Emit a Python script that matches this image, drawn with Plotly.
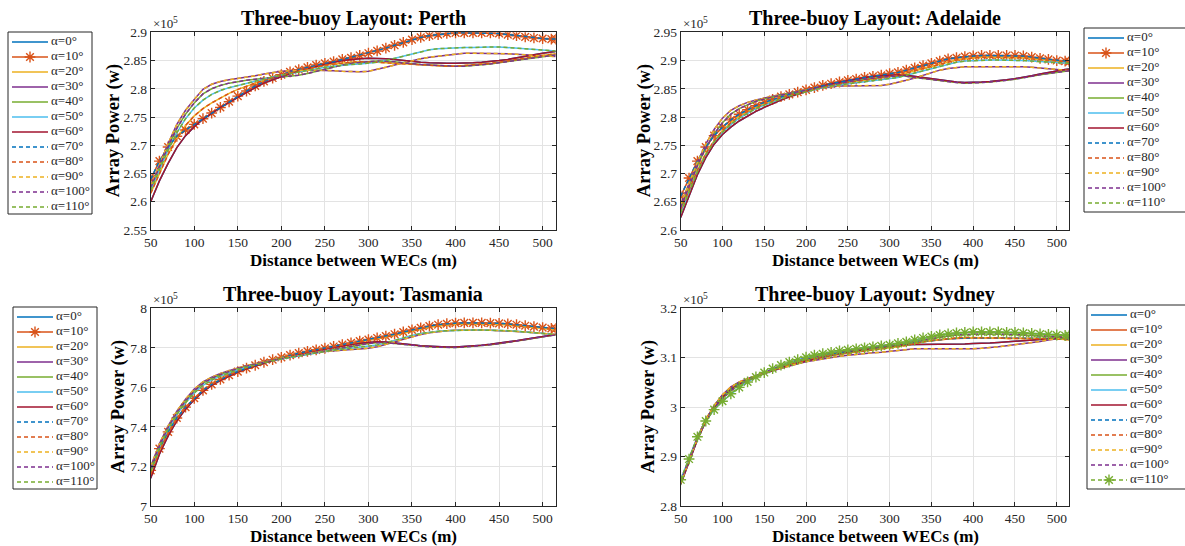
import plotly.graph_objects as go

# Spacing between wave energy converters (m)
distance_m = [50, 60, 70, 80, 90, 100, 110, 120, 130, 140, 150, 160,
              170, 180, 190, 200, 210, 220, 230, 240, 250, 260, 270, 280,
              290, 300, 310, 320, 330, 340, 350, 360, 370, 380, 390, 400,
              410, 420, 430, 440, 450, 460, 470, 480, 490, 500, 510, 515]

# Wave direction angles (deg)
angles_deg = [0, 10, 20, 30, 40, 50, 60, 70, 80, 90, 100, 110]

# Array power in units of 1e5 W. Directions 60 deg apart give the same curve.
perth_a0_a60 = [2.600, 2.637, 2.668, 2.696, 2.717, 2.733, 2.746, 2.757, 2.767, 2.776, 2.785, 2.794,
                2.802, 2.810, 2.816, 2.822, 2.827, 2.832, 2.836, 2.840, 2.844, 2.847, 2.850, 2.852,
                2.853, 2.854, 2.854, 2.853, 2.852, 2.850, 2.848, 2.847, 2.846, 2.845, 2.845, 2.845,
                2.845, 2.846, 2.847, 2.848, 2.850, 2.852, 2.855, 2.858, 2.861, 2.863, 2.865, 2.866]
perth_a10_a70 = [2.640, 2.672, 2.697, 2.716, 2.727, 2.737, 2.747, 2.757, 2.767, 2.777, 2.787, 2.796,
                 2.805, 2.813, 2.819, 2.825, 2.830, 2.834, 2.838, 2.842, 2.845, 2.848, 2.852, 2.855,
                 2.859, 2.863, 2.867, 2.872, 2.877, 2.882, 2.887, 2.891, 2.894, 2.896, 2.898, 2.899,
                 2.899, 2.899, 2.899, 2.899, 2.898, 2.896, 2.894, 2.892, 2.890, 2.889, 2.888, 2.888]
perth_a20_a80 = [2.615, 2.650, 2.684, 2.712, 2.735, 2.752, 2.765, 2.775, 2.784, 2.792, 2.799, 2.805,
                 2.810, 2.815, 2.820, 2.824, 2.828, 2.832, 2.836, 2.839, 2.842, 2.844, 2.846, 2.847,
                 2.848, 2.848, 2.847, 2.846, 2.845, 2.844, 2.843, 2.842, 2.841, 2.840, 2.840, 2.840,
                 2.841, 2.842, 2.843, 2.845, 2.847, 2.849, 2.852, 2.854, 2.857, 2.859, 2.861, 2.862]
perth_a30_a90 = [2.628, 2.667, 2.703, 2.737, 2.762, 2.781, 2.799, 2.808, 2.813, 2.816, 2.818, 2.820,
                 2.823, 2.826, 2.829, 2.831, 2.832, 2.833, 2.833, 2.833, 2.833, 2.832, 2.831, 2.830,
                 2.830, 2.831, 2.834, 2.838, 2.842, 2.846, 2.850, 2.853, 2.856, 2.858, 2.860, 2.862,
                 2.863, 2.863, 2.863, 2.863, 2.863, 2.862, 2.861, 2.860, 2.859, 2.858, 2.857, 2.857]
perth_a40_a100 = [2.625, 2.662, 2.698, 2.730, 2.755, 2.775, 2.791, 2.800, 2.806, 2.810, 2.813, 2.815,
                  2.817, 2.819, 2.820, 2.821, 2.822, 2.824, 2.827, 2.831, 2.835, 2.839, 2.842, 2.845,
                  2.847, 2.848, 2.849, 2.849, 2.848, 2.846, 2.844, 2.843, 2.842, 2.841, 2.840, 2.840,
                  2.840, 2.841, 2.842, 2.844, 2.846, 2.848, 2.850, 2.853, 2.855, 2.857, 2.859, 2.860]
perth_a50_a110 = [2.620, 2.657, 2.692, 2.722, 2.747, 2.766, 2.780, 2.790, 2.797, 2.802, 2.806, 2.810,
                  2.814, 2.818, 2.821, 2.824, 2.827, 2.830, 2.833, 2.836, 2.838, 2.840, 2.842, 2.843,
                  2.844, 2.845, 2.847, 2.850, 2.854, 2.858, 2.862, 2.866, 2.869, 2.871, 2.872, 2.873,
                  2.873, 2.873, 2.874, 2.874, 2.874, 2.873, 2.872, 2.871, 2.870, 2.869, 2.868, 2.867]

adelaide_a0_a60 = [2.622, 2.660, 2.698, 2.728, 2.752, 2.769, 2.782, 2.793, 2.802, 2.810, 2.817, 2.824,
                   2.830, 2.836, 2.841, 2.846, 2.851, 2.855, 2.859, 2.862, 2.865, 2.867, 2.870, 2.872,
                   2.873, 2.874, 2.875, 2.874, 2.872, 2.870, 2.867, 2.865, 2.863, 2.862, 2.861, 2.861,
                   2.862, 2.863, 2.864, 2.866, 2.868, 2.870, 2.873, 2.876, 2.879, 2.882, 2.884, 2.885]
adelaide_a10_a70 = [2.660, 2.692, 2.722, 2.747, 2.767, 2.782, 2.795, 2.805, 2.813, 2.820, 2.826, 2.831,
                    2.836, 2.840, 2.844, 2.848, 2.852, 2.856, 2.859, 2.862, 2.865, 2.867, 2.870, 2.872,
                    2.874, 2.877, 2.879, 2.883, 2.887, 2.891, 2.895, 2.899, 2.903, 2.905, 2.907, 2.908,
                    2.909, 2.909, 2.909, 2.909, 2.909, 2.908, 2.906, 2.904, 2.902, 2.900, 2.899, 2.898]
adelaide_a20_a80 = [2.635, 2.672, 2.706, 2.735, 2.758, 2.776, 2.790, 2.801, 2.810, 2.817, 2.823, 2.829,
                    2.834, 2.838, 2.842, 2.846, 2.850, 2.853, 2.856, 2.859, 2.861, 2.863, 2.865, 2.867,
                    2.869, 2.871, 2.874, 2.878, 2.882, 2.886, 2.890, 2.894, 2.898, 2.901, 2.903, 2.905,
                    2.906, 2.906, 2.906, 2.906, 2.906, 2.905, 2.903, 2.902, 2.900, 2.899, 2.898, 2.897]
adelaide_a30_a90 = [2.645, 2.683, 2.720, 2.752, 2.778, 2.798, 2.812, 2.820, 2.826, 2.830, 2.834, 2.837,
                    2.840, 2.843, 2.846, 2.848, 2.850, 2.852, 2.854, 2.855, 2.855, 2.855, 2.855, 2.855,
                    2.856, 2.858, 2.861, 2.865, 2.869, 2.874, 2.879, 2.883, 2.886, 2.888, 2.889, 2.889,
                    2.889, 2.889, 2.889, 2.890, 2.890, 2.889, 2.888, 2.887, 2.886, 2.884, 2.883, 2.882]
adelaide_a40_a100 = [2.640, 2.678, 2.714, 2.745, 2.770, 2.790, 2.805, 2.815, 2.822, 2.828, 2.832, 2.836,
                     2.839, 2.842, 2.845, 2.848, 2.851, 2.854, 2.857, 2.860, 2.863, 2.865, 2.867, 2.869,
                     2.871, 2.872, 2.872, 2.872, 2.870, 2.868, 2.866, 2.864, 2.862, 2.861, 2.860, 2.860,
                     2.861, 2.862, 2.863, 2.865, 2.867, 2.869, 2.872, 2.875, 2.877, 2.879, 2.881, 2.882]
adelaide_a50_a110 = [2.630, 2.668, 2.703, 2.733, 2.756, 2.773, 2.787, 2.798, 2.807, 2.815, 2.821, 2.827,
                     2.832, 2.837, 2.841, 2.845, 2.849, 2.852, 2.855, 2.857, 2.859, 2.861, 2.863, 2.865,
                     2.866, 2.868, 2.870, 2.874, 2.878, 2.882, 2.886, 2.890, 2.894, 2.897, 2.899, 2.900,
                     2.901, 2.901, 2.901, 2.901, 2.901, 2.900, 2.899, 2.898, 2.897, 2.896, 2.895, 2.895]

tasmania_a0_a60 = [7.140, 7.262, 7.355, 7.430, 7.490, 7.538, 7.578, 7.610, 7.636, 7.658, 7.677, 7.694,
                   7.709, 7.723, 7.736, 7.748, 7.759, 7.769, 7.778, 7.787, 7.795, 7.803, 7.810, 7.817,
                   7.823, 7.828, 7.831, 7.830, 7.826, 7.820, 7.815, 7.810, 7.807, 7.805, 7.804, 7.804,
                   7.806, 7.809, 7.813, 7.818, 7.823, 7.829, 7.836, 7.843, 7.851, 7.858, 7.864, 7.867]
tasmania_a10_a70 = [7.180, 7.290, 7.375, 7.445, 7.500, 7.545, 7.585, 7.615, 7.640, 7.662, 7.680, 7.697,
                    7.712, 7.727, 7.740, 7.752, 7.763, 7.773, 7.782, 7.790, 7.798, 7.807, 7.816, 7.825,
                    7.834, 7.842, 7.850, 7.859, 7.869, 7.880, 7.891, 7.901, 7.910, 7.917, 7.922, 7.925,
                    7.926, 7.926, 7.926, 7.925, 7.924, 7.921, 7.917, 7.912, 7.907, 7.902, 7.898, 7.897]
tasmania_a20_a80 = [7.160, 7.278, 7.367, 7.440, 7.497, 7.544, 7.584, 7.615, 7.641, 7.663, 7.682, 7.699,
                    7.714, 7.728, 7.741, 7.752, 7.762, 7.772, 7.781, 7.789, 7.797, 7.805, 7.812, 7.820,
                    7.828, 7.836, 7.844, 7.853, 7.863, 7.874, 7.885, 7.895, 7.904, 7.911, 7.916, 7.919,
                    7.920, 7.920, 7.920, 7.919, 7.918, 7.915, 7.911, 7.907, 7.902, 7.897, 7.893, 7.892]
tasmania_a30_a90 = [7.200, 7.315, 7.405, 7.480, 7.540, 7.592, 7.628, 7.652, 7.670, 7.685, 7.698, 7.710,
                    7.721, 7.731, 7.740, 7.748, 7.756, 7.764, 7.771, 7.777, 7.782, 7.786, 7.789, 7.791,
                    7.794, 7.798, 7.806, 7.817, 7.830, 7.843, 7.856, 7.867, 7.876, 7.883, 7.887, 7.889,
                    7.890, 7.890, 7.890, 7.889, 7.888, 7.886, 7.883, 7.880, 7.876, 7.872, 7.869, 7.868]
tasmania_a40_a100 = [7.190, 7.305, 7.398, 7.472, 7.532, 7.582, 7.620, 7.646, 7.665, 7.681, 7.695, 7.707,
                     7.718, 7.728, 7.737, 7.745, 7.753, 7.761, 7.769, 7.777, 7.785, 7.793, 7.801, 7.809,
                     7.816, 7.822, 7.826, 7.826, 7.822, 7.817, 7.812, 7.808, 7.805, 7.803, 7.802, 7.802,
                     7.804, 7.807, 7.811, 7.816, 7.821, 7.827, 7.834, 7.841, 7.849, 7.856, 7.862, 7.866]
tasmania_a50_a110 = [7.175, 7.295, 7.388, 7.462, 7.522, 7.572, 7.610, 7.637, 7.657, 7.674, 7.689, 7.702,
                     7.714, 7.725, 7.735, 7.744, 7.752, 7.760, 7.768, 7.775, 7.782, 7.788, 7.793, 7.797,
                     7.801, 7.806, 7.814, 7.825, 7.838, 7.851, 7.863, 7.872, 7.879, 7.884, 7.887, 7.889,
                     7.890, 7.890, 7.890, 7.890, 7.889, 7.887, 7.884, 7.880, 7.876, 7.872, 7.869, 7.867]

sydney_a0_a60 = [2.844, 2.888, 2.934, 2.971, 3.000, 3.020, 3.036, 3.047, 3.055, 3.062, 3.068, 3.074,
                 3.080, 3.085, 3.090, 3.094, 3.098, 3.102, 3.105, 3.108, 3.111, 3.114, 3.117, 3.119,
                 3.121, 3.123, 3.125, 3.126, 3.127, 3.127, 3.127, 3.127, 3.127, 3.128, 3.128, 3.129,
                 3.129, 3.130, 3.131, 3.132, 3.133, 3.134, 3.135, 3.137, 3.139, 3.140, 3.141, 3.141]
sydney_a10_a70 = [2.849, 2.893, 2.939, 2.975, 3.002, 3.022, 3.038, 3.048, 3.056, 3.063, 3.069, 3.076,
                  3.082, 3.087, 3.092, 3.096, 3.100, 3.104, 3.107, 3.110, 3.113, 3.116, 3.119, 3.121,
                  3.123, 3.125, 3.127, 3.129, 3.131, 3.133, 3.135, 3.137, 3.138, 3.139, 3.140, 3.140,
                  3.140, 3.140, 3.140, 3.140, 3.140, 3.140, 3.140, 3.140, 3.140, 3.139, 3.138, 3.137]
sydney_a20_a80 = [2.848, 2.892, 2.938, 2.975, 3.003, 3.024, 3.040, 3.050, 3.057, 3.063, 3.069, 3.075,
                  3.081, 3.086, 3.091, 3.095, 3.099, 3.102, 3.105, 3.107, 3.109, 3.111, 3.113, 3.115,
                  3.117, 3.119, 3.122, 3.125, 3.129, 3.132, 3.135, 3.137, 3.139, 3.140, 3.141, 3.141,
                  3.141, 3.140, 3.140, 3.139, 3.139, 3.139, 3.139, 3.139, 3.139, 3.138, 3.137, 3.136]
sydney_a30_a90 = [2.846, 2.890, 2.936, 2.974, 3.003, 3.025, 3.041, 3.051, 3.058, 3.064, 3.069, 3.074,
                  3.079, 3.084, 3.088, 3.092, 3.095, 3.098, 3.101, 3.103, 3.105, 3.107, 3.108, 3.110,
                  3.111, 3.113, 3.115, 3.117, 3.118, 3.118, 3.118, 3.117, 3.117, 3.117, 3.117, 3.118,
                  3.119, 3.120, 3.122, 3.124, 3.126, 3.128, 3.130, 3.133, 3.136, 3.139, 3.141, 3.142]
sydney_a40_a100 = [2.850, 2.892, 2.937, 2.972, 2.998, 3.017, 3.033, 3.045, 3.054, 3.062, 3.070, 3.077,
                   3.084, 3.090, 3.095, 3.099, 3.103, 3.106, 3.109, 3.112, 3.115, 3.117, 3.119, 3.121,
                   3.123, 3.125, 3.127, 3.130, 3.133, 3.136, 3.139, 3.142, 3.144, 3.146, 3.147, 3.148,
                   3.148, 3.148, 3.148, 3.148, 3.147, 3.146, 3.145, 3.144, 3.143, 3.142, 3.141, 3.141]
sydney_a50_a110 = [2.853, 2.895, 2.940, 2.972, 2.995, 3.012, 3.027, 3.040, 3.051, 3.061, 3.070, 3.078,
                   3.085, 3.091, 3.096, 3.101, 3.105, 3.108, 3.111, 3.114, 3.116, 3.118, 3.120, 3.122,
                   3.124, 3.126, 3.129, 3.132, 3.136, 3.140, 3.143, 3.146, 3.148, 3.150, 3.151, 3.152,
                   3.152, 3.152, 3.152, 3.151, 3.151, 3.150, 3.149, 3.148, 3.147, 3.146, 3.145, 3.145]

# MATLAB default line colour order, cycled; second cycle drawn dashed
line_colors = ["#0072BD", "#D95319", "#EDB120", "#7E2F8E", "#77AC30", "#4DBEEE", "#A2142F",
               "#0072BD", "#D95319", "#EDB120", "#7E2F8E", "#77AC30"]
line_dashes = ["solid"] * 7 + ["4px,3px"] * 5

W, H = 1185, 546
SERIF = "Liberation Serif, Times New Roman, serif"
INK = "#262626"
LW = 1.5

panels = [
    dict(site="Perth", curves=[perth_a0_a60, perth_a10_a70, perth_a20_a80,
                               perth_a30_a90, perth_a40_a100, perth_a50_a110],
         yrange=[2.55, 2.9], dtick=0.05, starred=10,
         box=(150.7, 555.7, 32.3, 230.0), key_box=(8, 92, 32, 214), ytitle_x=113),
    dict(site="Adelaide", curves=[adelaide_a0_a60, adelaide_a10_a70, adelaide_a20_a80,
                                  adelaide_a30_a90, adelaide_a40_a100, adelaide_a50_a110],
         yrange=[2.6, 2.95], dtick=0.05, starred=10,
         box=(680.7, 1069.3, 32.3, 230.0), key_box=(1084, 1194, 28, 212), ytitle_x=644),
    dict(site="Tasmania", curves=[tasmania_a0_a60, tasmania_a10_a70, tasmania_a20_a80,
                                  tasmania_a30_a90, tasmania_a40_a100, tasmania_a50_a110],
         yrange=[7.0, 8.0], dtick=0.2, starred=10,
         box=(150.7, 555.7, 308.3, 506.0), key_box=(13, 97, 307, 489), ytitle_x=118),
    dict(site="Sydney", curves=[sydney_a0_a60, sydney_a10_a70, sydney_a20_a80,
                                sydney_a30_a90, sydney_a40_a100, sydney_a50_a110],
         yrange=[2.8, 3.2], dtick=0.1, starred=110,
         box=(680.7, 1069.3, 308.3, 506.0), key_box=(1087, 1197, 305, 489), ytitle_x=648),
]

fig = go.Figure()
layout = {}
annotations = []
shapes = []


def star_marker(color, size):
    return dict(symbol="asterisk-open", size=size, color=color, line=dict(color=color, width=1.4))


for k, p in enumerate(panels, start=1):
    sfx = "" if k == 1 else str(k)
    x0, x1, top, bottom = p["box"]
    for i, ang in enumerate(angles_deg):
        starred = ang == p["starred"]
        fig.add_trace(go.Scatter(
            x=distance_m, y=p["curves"][i % 6],
            xaxis="x" + sfx, yaxis="y" + sfx,
            mode="lines+markers" if starred else "lines",
            name=f"α={ang}°",
            line=dict(color=line_colors[i], width=LW, dash=line_dashes[i]),
            marker=star_marker(line_colors[i], 9) if starred else None,
            showlegend=False, hoverinfo="skip",
        ))

    layout["xaxis" + sfx] = dict(
        domain=[x0 / W, x1 / W], anchor="y" + sfx, range=[50, 515],
        tickmode="array", tickvals=[50, 100, 150, 200, 250, 300, 350, 400, 450, 500],
        ticks="inside", ticklen=4, tickcolor=INK, showline=True, linecolor=INK, linewidth=1,
        mirror="ticks", showgrid=True, gridcolor="#e3e3e3", gridwidth=1, zeroline=False,
        tickfont=dict(family=SERIF, size=13.5, color=INK),
    )
    layout["yaxis" + sfx] = dict(
        domain=[1 - bottom / H, 1 - top / H], anchor="x" + sfx, range=p["yrange"],
        dtick=p["dtick"], tick0=0, ticks="inside", ticklen=4, tickcolor=INK,
        showline=True, linecolor=INK, linewidth=1, mirror="ticks",
        showgrid=True, gridcolor="#e3e3e3", gridwidth=1, zeroline=False,
        tickfont=dict(family=SERIF, size=13.5, color=INK),
    )

    # Boxed key of wave directions, one row per angle
    n = 4 + k
    kx0, kx1, ky0, ky1 = p["key_box"]
    kx1_vis = min(kx1, W)
    layout[f"xaxis{n}"] = dict(domain=[kx0 / W, kx1_vis / W], anchor=f"y{n}",
                               range=[0, kx1_vis - kx0], visible=False, fixedrange=True)
    layout[f"yaxis{n}"] = dict(domain=[1 - ky1 / H, 1 - ky0 / H], anchor=f"x{n}",
                               range=[ky1 - ky0, 0], visible=False, fixedrange=True)
    shapes.append(dict(type="rect", xref="paper", yref="paper",
                       x0=kx0 / W, x1=kx1 / W, y0=1 - ky1 / H, y1=1 - ky0 / H,
                       line=dict(color=INK, width=1), fillcolor="white", layer="below"))
    rows = [10 + 15 * i for i in range(len(angles_deg))]
    for i, ang in enumerate(angles_deg):
        starred = ang == p["starred"]
        fig.add_trace(go.Scatter(
            x=[4, 40], y=[rows[i], rows[i]], xaxis=f"x{n}", yaxis=f"y{n}",
            mode="lines", line=dict(color=line_colors[i], width=LW, dash=line_dashes[i]),
            showlegend=False, hoverinfo="skip",
        ))
        if starred:
            fig.add_trace(go.Scatter(
                x=[22], y=[rows[i]], xaxis=f"x{n}", yaxis=f"y{n}", mode="markers",
                marker=star_marker(line_colors[i], 9), showlegend=False, hoverinfo="skip",
            ))
    fig.add_trace(go.Scatter(
        x=[43] * len(angles_deg), y=rows, xaxis=f"x{n}", yaxis=f"y{n}", mode="text",
        text=[f"α={a}°" for a in angles_deg], textposition="middle right",
        textfont=dict(family=SERIF, size=13, color=INK),
        showlegend=False, hoverinfo="skip", cliponaxis=False,
    ))

    cx = (x0 + x1) / 2
    annotations += [
        dict(text=f"<b>Three-buoy Layout: {p['site']}</b>", x=cx / W, y=1 - (top - 14) / H,
             xref="paper", yref="paper", showarrow=False, xanchor="center", yanchor="middle",
             font=dict(family=SERIF, size=20, color="black")),
        dict(text="<b>Distance between WECs (m)</b>", x=cx / W, y=1 - (bottom + 30) / H,
             xref="paper", yref="paper", showarrow=False, xanchor="center", yanchor="middle",
             font=dict(family=SERIF, size=17, color="black")),
        dict(text="<b>Array Power (w)</b>", x=p["ytitle_x"] / W, y=1 - ((top + bottom) / 2) / H,
             xref="paper", yref="paper", showarrow=False, xanchor="center", yanchor="middle",
             textangle=-90, font=dict(family=SERIF, size=18.5, color="black")),
        # axis exponent label: "×10" with a raised "5"
        dict(text="×10", x=(x0 + 1) / W, y=1 - (top - 0.5) / H,
             xref="paper", yref="paper", showarrow=False, xanchor="left", yanchor="bottom",
             font=dict(family=SERIF, size=13, color=INK), borderpad=0),
        dict(text="5", x=(x0 + 21.5) / W, y=1 - (top - 6) / H,
             xref="paper", yref="paper", showarrow=False, xanchor="left", yanchor="bottom",
             font=dict(family=SERIF, size=9.5, color=INK), borderpad=0),
    ]

fig.update_layout(
    width=W, height=H,
    margin=dict(l=0, r=0, t=0, b=0, autoexpand=False),
    paper_bgcolor="white", plot_bgcolor="white",
    annotations=annotations, shapes=shapes, showlegend=False,
    **layout,
)

fig.write_html("out.html")
